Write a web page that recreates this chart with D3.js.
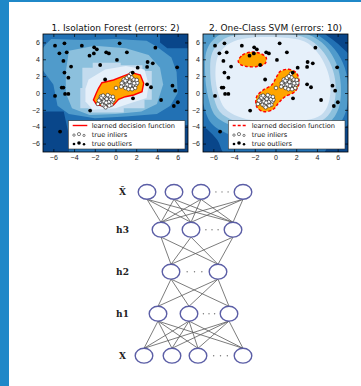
<!DOCTYPE html>
<html><head><meta charset="utf-8">
<script src="https://cdn.jsdelivr.net/npm/d3@7"></script>
<style>html,body{margin:0;padding:0;background:#fff;overflow:hidden;} svg{display:block;}</style>
</head><body>
<svg id="c" width="361" height="386"></svg>
<script>
// ---------------- data ----------------
const tickValues = [-6, -4, -2, 0, 2, 4, 6];
const panelTitles = ["1. Isolation Forest (errors: 2)", "2. One-Class SVM (errors: 10)"];
const legendLabels = ["learned decision function", "true inliers", "true outliers"];

const outlierPoints = [[-5.84,5.62],[-4.93,5.89],[-5.42,4.71],[-4.71,4.83],[-5.03,3.8],[-4.29,3.13],[-4.93,2.42],[-4.55,1.82],[-3.25,5.62],[-2.06,5.42],[-1.8,5.18],[-2.51,4.43],[-2.09,4.7],[-0.9,4.83],[-0.64,4.7],[0.4,5.89],[1.1,4.83],[0.14,3.92],[-1.48,3.32],[3.85,5.38],[3.1,3.68],[3.6,3.52],[3.05,3.09],[2.14,3.0],[5.95,3.05],[1.66,2.42],[3.05,1.03],[3.43,0.68],[-5.84,-0.35],[-5.19,0.64],[-5.03,0.64],[-4.87,-0.11],[-4.55,-0.11],[-5.35,-4.58],[-2.45,-2.09],[1.69,-0.63],[4.4,-0.83],[5.5,0.87],[5.76,0.28],[6.02,-1.1],[5.63,-1.54],[-1.0,1.6]];

const inlierPointsA = [[-0.9,-0.9],[-0.6,-0.8],[-1.2,-0.8],[-0.8,-0.55],[-1.0,-1.25],[-0.5,-1.1],[-1.3,-1.1],[-0.7,-1.35],[-1.1,-0.45],[-0.35,-0.6],[-1.45,-0.65],[-0.3,-1.0],[-1.5,-1.05],[-0.55,-0.4],[-1.25,-1.4],[-0.75,-0.25],[-1.05,-1.55],[-0.4,-1.4],[-1.4,-0.4],[-0.2,-0.8],[-1.6,-0.9],[-0.65,-1.05],[-1.1,-1.0],[-0.85,-0.7],[-0.45,-0.75],[-1.35,-0.55],[-0.6,-1.5],[-1.2,-0.3],[-0.9,-1.15],[-0.25,-0.45],[-1.7,-1.3],[-0.95,-1.7]];
const inlierPointsB = [[1.3,1.1],[1.6,1.2],[1.0,1.2],[1.4,1.45],[1.2,0.75],[1.7,0.9],[0.9,0.9],[1.5,0.65],[1.1,1.55],[1.95,1.4],[0.75,1.35],[2.0,1.0],[0.7,0.95],[1.75,1.6],[0.95,0.6],[1.55,1.85],[1.25,0.45],[1.9,0.6],[0.8,1.6],[2.1,1.2],[0.6,1.15],[1.45,0.95],[1.15,1.0],[1.35,1.3],[1.8,1.15],[0.95,1.45],[1.6,0.45],[1.1,1.8],[1.4,0.85],[2.05,1.55],[0.55,0.75],[1.3,2.0],[1.5,2.3],[0.05,0.6]];

// Blues_r shades for the six decision-function bands (outer -> inner)
const bandShades = [0.917, 0.75, 0.583, 0.417, 0.25, 0.083];

// Isolation Forest band outlines (data coords), bands 2..6 (band 1 = whole frame)
const forestBands = [
  [[-7.5,7.5],[4.3,7.5],[4.3,6.0],[5.0,5.3],[7.5,5.3],[7.5,-3.8],[5.0,-3.8],[4.5,-5.0],[4.0,-7.5],[-4.5,-7.5],[-4.5,-5.0],[-5.0,-2.2],[-7.5,-2.2]],
  [[-6.7,5.8],[-6.2,6.4],[-3,6.3],[0,6.4],[3,6.2],[4,5.5],[5.4,4.2],[5.9,2.5],[6,0],[5.3,-1.5],[4,-2.5],[1,-2.8],[-2,-3],[-4.5,-2.5],[-5.6,-1.5],[-6,1],[-7.5,3.5],[-7.5,4.6]],
  [[-4.8,2.5],[-4.5,5],[-2,5.6],[1,5.3],[3.2,4.5],[4.3,3],[4.6,1],[4,-1.3],[2.5,-2.2],[0,-2.5],[-2.5,-2.6],[-4.2,-1.8],[-4.8,0]],
  [[-3.2,3.0],[-2.2,3.0],[-2.2,3.6],[0.5,3.6],[0.5,3.3],[2.6,3.3],[2.6,2.6],[3.5,2.6],[3.5,-0.8],[2.8,-0.8],[2.8,-1.8],[0.8,-1.8],[0.8,-2.3],[-2.6,-2.3],[-2.6,-1.8],[-3.4,-1.8],[-3.4,0.6],[-3.2,0.6]],
  [[-2.6,1.6],[-1,2.8],[1,3.2],[2.8,2.8],[3.2,1],[3,-0.6],[1.5,-1.2],[0,-1.8],[-2.2,-2.0],[-2.9,-1],[-2.9,0.5]]
];
const forestInlierRegions = [
  [[-1.31,1.22],[-0.19,1.54],[0.62,1.94],[1.59,2.41],[2.4,2.14],[2.72,1.15],[2.56,0.16],[1.75,-0.24],[0.95,-0.44],[0.3,-0.75],[-0.19,-1.42],[-0.83,-1.62],[-1.8,-1.42],[-2.13,-0.83],[-1.86,-0.03],[-1.64,0.56]]
];

// One-Class SVM band outlines (data coords), bands 2..6
const svmBands = [
  [[-7.5,7.5],[4.0,7.5],[5.2,6.6],[6.4,5.4],[7.5,3.8],[7.5,-3.0],[6.5,-4.3],[5.3,-5.8],[4.3,-7.5],[-4.7,-7.5],[-5.6,-5.6],[-6.6,-4.3],[-7.5,-3.4]],
  [[-7.6,6.2],[-6.5,7.4],[-3,7.6],[1,7.6],[3.8,7.0],[5.4,5.6],[6.5,3.6],[7.0,1],[6.8,-2.2],[5.8,-4.2],[4.0,-5.3],[1,-5.7],[-2,-5.6],[-4.5,-4.9],[-6.2,-3.6],[-7.0,-1.2],[-7.4,2.5]],
  [[-6.6,5.2],[-5.4,6.9],[-3,7.4],[0.5,7.4],[3.2,6.9],[4.8,5.6],[5.9,3.4],[6.3,1],[6.1,-1.8],[5.2,-3.5],[3.6,-4.4],[1,-4.7],[-2,-4.6],[-4.2,-3.9],[-5.8,-2.7],[-6.5,-0.5],[-6.8,2.5]],
  [[-6.1,4.8],[-5,6.4],[-3,7.0],[0.3,7.1],[3,6.5],[4.4,5.2],[5.4,3.2],[5.8,1],[5.6,-1.5],[4.8,-3.0],[3.3,-3.8],[1,-4.0],[-2,-3.9],[-4,-3.3],[-5.4,-2.2],[-6.0,-0.3],[-6.3,2.3]],
  [[-5.5,4.5],[-4.4,5.9],[-2.8,6.5],[0.2,6.6],[2.8,6.1],[4.0,4.9],[4.9,3.0],[5.3,1],[5.1,-1.3],[4.4,-2.6],[3.0,-3.2],[1,-3.4],[-1.8,-3.3],[-3.6,-2.8],[-4.9,-1.8],[-5.5,-0.2],[-5.8,2.2]]
];
const svmInlierRegions = [
  [[-3.6,3.8],[-3.2,4.5],[-2.4,4.85],[-1.5,4.7],[-0.9,4.2],[-1.0,3.5],[-1.8,3.15],[-2.8,3.15],[-3.4,3.4]],
  [[0.43,2.53],[1.24,2.81],[2.04,2.34],[2.27,1.15],[1.88,0.16],[0.92,-0.44],[0.27,-1.22],[-0.21,-1.93],[-1.18,-2.21],[-1.82,-1.62],[-1.82,-0.44],[-1.18,0.36],[-0.37,0.95],[0.11,1.94]]
];

// Autoencoder diagram
const netLayerLabels = ["X\u0302", "h3", "h2", "h1", "X"];
const netLayerDepth = [3.9, 3, 2, 1, 0];
const netNodeOffsets = [[-48,-21,6,48],[-34,-4,38],[-24,23],[-37,-6,34],[-51,-23,3,48]];
const netEllipsisAfter = [2, 1, 0, 1, 2];

// ---------------- drawing ----------------
const inlierPoints = inlierPointsA.concat(inlierPointsB);
const svg = d3.select("#c");
svg.append("rect").attr("x",0).attr("y",0).attr("width",361).attr("height",386).attr("fill","#fff");
svg.append("rect").attr("x",0).attr("y",0).attr("width",361).attr("height",2).attr("fill","#1f88c8");
svg.append("rect").attr("x",0).attr("y",0).attr("width",9).attr("height",386).attr("fill","#1f88c8");

const plotTop = 34, plotBottom = 152;
const panels = [
  {x0: 43, x1: 188, bands: forestBands, regions: forestInlierRegions, curve: d3.curveLinearClosed, dash: null, title: panelTitles[0]},
  {x0: 203, x1: 348, bands: svmBands, regions: svmInlierRegions, curve: d3.curveCatmullRomClosed.alpha(0.5), dash: "3,2", title: panelTitles[1]}
];
const font = "DejaVu Sans, sans-serif";

panels.forEach((p, pi) => {
  const xs = d3.scaleLinear().domain([-7, 7]).range([p.x0, p.x1]);
  const ys = d3.scaleLinear().domain([-7, 7]).range([plotBottom, plotTop]);
  const g = svg.append("g");
  const clipId = "clip" + pi;
  g.append("clipPath").attr("id", clipId).append("rect")
    .attr("x", p.x0).attr("y", plotTop).attr("width", p.x1 - p.x0).attr("height", plotBottom - plotTop);
  const body = g.append("g").attr("clip-path", `url(#${clipId})`);
  const line = d3.line().x(d => xs(d[0])).y(d => ys(d[1])).curve(p.curve);

  body.append("rect").attr("x", p.x0).attr("y", plotTop).attr("width", p.x1 - p.x0).attr("height", plotBottom - plotTop)
    .attr("fill", d3.interpolateBlues(bandShades[0]));
  p.bands.forEach((poly, i) => {
    body.append("path").attr("d", line(poly)).attr("fill", d3.interpolateBlues(bandShades[i + 1]));
  });
  p.regions.forEach(poly => {
    body.append("path").attr("d", line(poly)).attr("fill", "orange")
      .attr("stroke", "red").attr("stroke-width", 1.4)
      .attr("stroke-dasharray", p.dash);
  });
  body.selectAll("circle.inl").data(inlierPoints).join("circle").attr("class","inl")
    .attr("cx", d => xs(d[0])).attr("cy", d => ys(d[1])).attr("r", 1.8)
    .attr("fill", "#fff").attr("stroke", "#222").attr("stroke-width", 0.6);
  body.selectAll("circle.out").data(outlierPoints).join("circle").attr("class","out")
    .attr("cx", d => xs(d[0])).attr("cy", d => ys(d[1])).attr("r", 1.9)
    .attr("fill", "#000");

  // axes (inward ticks on all sides)
  const fmt = d3.format("d");
  const ax = g.append("g").attr("font-family", font);
  ax.append("g").attr("transform", `translate(0,${plotBottom})`)
    .call(d3.axisBottom(xs).tickValues(tickValues).tickSizeInner(-3).tickSizeOuter(0).tickPadding(3).tickFormat(d => fmt(d)));
  ax.append("g").attr("transform", `translate(${p.x0},0)`)
    .call(d3.axisLeft(ys).tickValues(tickValues).tickSizeInner(-3).tickSizeOuter(0).tickPadding(3).tickFormat(d => fmt(d)));
  ax.append("g").attr("transform", `translate(0,${plotTop})`)
    .call(d3.axisTop(xs).tickValues(tickValues).tickSizeInner(-3).tickSizeOuter(0).tickFormat(""));
  ax.append("g").attr("transform", `translate(${p.x1},0)`)
    .call(d3.axisRight(ys).tickValues(tickValues).tickSizeInner(-3).tickSizeOuter(0).tickFormat(""));
  ax.selectAll(".domain").remove();
  ax.selectAll("text").attr("font-size", 7).attr("fill", "#222");
  ax.selectAll("line").attr("stroke", "#000").attr("stroke-width", 0.7);
  g.append("rect").attr("x", p.x0).attr("y", plotTop).attr("width", p.x1 - p.x0).attr("height", plotBottom - plotTop)
    .attr("fill", "none").attr("stroke", "#000").attr("stroke-width", 0.8);

  g.append("text").attr("x", (p.x0 + p.x1) / 2).attr("y", 31).attr("text-anchor", "middle")
    .attr("font-family", font).attr("font-size", 9).attr("fill", "#111").text(p.title);

  // legend
  const L = p.x0 + 25.3, R = p.x1 - 3, T = 120.7, B = 149;
  const lg = g.append("g");
  lg.append("rect").attr("x", L).attr("y", T).attr("width", R - L).attr("height", B - T)
    .attr("fill", "#fff").attr("stroke", "#333").attr("stroke-width", 0.6);
  const rows = [125.5, 134.5, 143.4];
  lg.append("line").attr("x1", L + 4.4).attr("x2", L + 19).attr("y1", rows[0]).attr("y2", rows[0])
    .attr("stroke", "red").attr("stroke-width", 1.4).attr("stroke-dasharray", p.dash);
  const mOff = [[5.7, 0.6, 1.5], [10.7, -0.4, 2], [15.7, 0.9, 1.4]];
  mOff.forEach(m => {
    lg.append("circle").attr("cx", L + m[0]).attr("cy", rows[1] + m[1]).attr("r", m[2] * 0.8)
      .attr("fill", "#fff").attr("stroke", "#000").attr("stroke-width", 0.5);
    lg.append("circle").attr("cx", L + m[0]).attr("cy", rows[2] + m[1]).attr("r", m[2] * 0.9)
      .attr("fill", "#000");
  });
  legendLabels.forEach((t, i) => {
    lg.append("text").attr("x", L + 23.4).attr("y", rows[i]).attr("dy", "0.35em")
      .attr("font-family", font).attr("font-size", 6.6).attr("fill", "#111").text(t);
  });
});

// ---- autoencoder diagram ----
const netCenter = 195;
const xNet = d3.scaleLinear().domain([-100, 100]).range([netCenter - 100, netCenter + 100]);
const yNet = d3.scaleLinear().domain([0, 3.9]).range([355.7, 191.9]);
const rx = 8.8, ry = 7.4;
const net = svg.append("g");
const edges = net.append("g").attr("stroke", "#5a5a5a").attr("stroke-width", 0.8);
for (let l = 0; l < netNodeOffsets.length - 1; l++) {
  const yU = yNet(netLayerDepth[l]) + ry, yD = yNet(netLayerDepth[l + 1]) - ry;
  netNodeOffsets[l].forEach(a => netNodeOffsets[l + 1].forEach(b => {
    edges.append("line").attr("x1", xNet(a)).attr("y1", yU).attr("x2", xNet(b)).attr("y2", yD);
  }));
}
netNodeOffsets.forEach((row, l) => {
  const cy = yNet(netLayerDepth[l]);
  row.forEach(o => {
    net.append("ellipse").attr("cx", xNet(o)).attr("cy", cy).attr("rx", rx).attr("ry", ry)
      .attr("fill", "#fff").attr("stroke", "#5b5ea6").attr("stroke-width", 1.4);
  });
  const k = netEllipsisAfter[l];
  const a = xNet(row[k]) + rx, b = xNet(row[k + 1]) - rx;
  [0.25, 0.5, 0.75].forEach(f => {
    net.append("circle").attr("cx", a + (b - a) * f).attr("cy", cy).attr("r", 0.7).attr("fill", "#777");
  });
  net.append("text").attr("x", 122.5).attr("y", cy).attr("dy", "0.35em").attr("text-anchor", "middle")
    .attr("font-family", "DejaVu Serif, serif").attr("font-weight", "bold").attr("font-size", 9)
    .attr("fill", "#222").text(netLayerLabels[l]);
});
</script>
</body></html>
